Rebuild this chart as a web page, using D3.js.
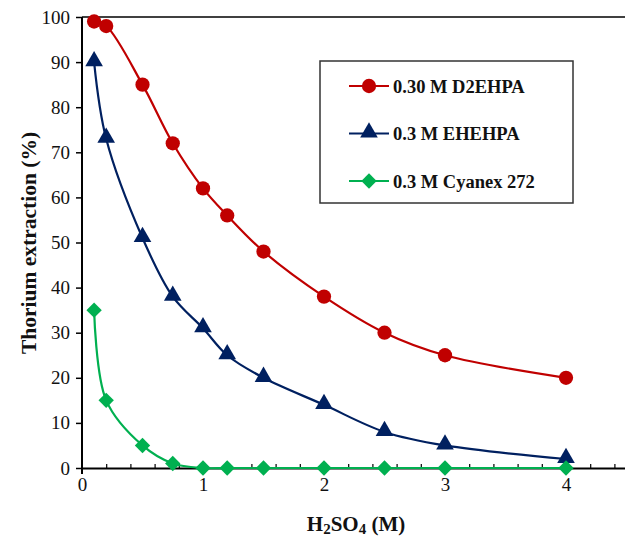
<!DOCTYPE html>
<html><head><meta charset="utf-8">
<script src="https://cdn.jsdelivr.net/npm/d3@7"></script>
<style>body{margin:0;background:#fff}svg{display:block}text{font-family:"Liberation Serif","Times New Roman",serif}</style>
</head><body>
<script>
const xValues = [0.1, 0.2, 0.5, 0.75, 1, 1.2, 1.5, 2, 2.5, 3, 4];
const d2ehpa = [99, 98, 85, 72, 62, 56, 48, 38, 30, 25, 20];
const ehehpa = [90, 73, 51, 38, 31, 25, 20, 14, 8, 5, 2];
const cyanex = [35, 15, 5, 1, 0, 0, 0, 0, 0, 0, 0];
const seriesNames = ["0.30 M D2EHPA", "0.3 M EHEHPA", "0.3 M Cyanex 272"];
const xTicks = [0, 1, 2, 3, 4];
const yTicks = [0, 10, 20, 30, 40, 50, 60, 70, 80, 90, 100];

const W = 625, H = 539;
const svg = d3.select("body").append("svg").attr("width", W).attr("height", H);
const x = d3.scaleLinear().domain([0, 4.5]).range([82, 626.5]);
const y = d3.scaleLinear().domain([0, 100]).range([468, 17]);

const series = [
  {name: seriesNames[0], vals: d2ehpa, color: "#C00000", marker: "circle"},
  {name: seriesNames[1], vals: ehehpa, color: "#002060", marker: "triangle"},
  {name: seriesNames[2], vals: cyanex, color: "#00B050", marker: "diamond"}
];
const sym = {circle: d3.symbol().type(d3.symbolCircle).size(160),
             triangle: d3.symbol().type(d3.symbolTriangle).size(135),
             diamond: d3.symbol().type(d3.symbolSquare).size(118)};

// top border
svg.append("line").attr("x1", 82).attr("x2", W).attr("y1", 17).attr("y2", 17)
  .attr("stroke", "#404040").attr("stroke-width", 2);

// x axis
const minor = d3.range(0, 4.51, 0.2).filter(v => Math.abs(v - Math.round(v)) > 1e-6);
svg.append("g").attr("transform", "translate(0,468)")
  .call(d3.axisBottom(x).tickValues(minor).tickSize(-4).tickFormat(""))
  .call(g => g.select(".domain").remove())
  .call(g => g.selectAll("line").attr("stroke", "#000").attr("stroke-width", 1.2));
const xg = svg.append("g").attr("transform", "translate(0,468)")
  .call(d3.axisBottom(x).tickValues(xTicks).tickSize(0).tickPadding(10).tickFormat(d3.format("d")));
xg.select(".domain").attr("stroke", "#000").attr("stroke-width", 2);
xg.selectAll("text").attr("font-size", 19).attr("fill", "#111");

// y axis
const yg = svg.append("g").attr("transform", "translate(82,0)")
  .call(d3.axisLeft(y).tickValues(yTicks).tickSize(6).tickPadding(6));
yg.select(".domain").attr("stroke", "#000").attr("stroke-width", 2).attr("d", "M0,17V474");
yg.selectAll("line").attr("stroke", "#000").attr("stroke-width", 1.5);
yg.selectAll("text").attr("font-size", 19).attr("fill", "#111");

// lines & markers
const line = d3.line().x(d => x(d[0])).y(d => y(d[1])).curve(d3.curveCatmullRom.alpha(0.5));
series.forEach(s => {
  const pts = xValues.map((v, i) => [v, s.vals[i]]);
  svg.append("path").attr("d", line(pts)).attr("fill", "none")
    .attr("stroke", s.color).attr("stroke-width", 2.2);
  svg.append("g").selectAll("path").data(pts).join("path")
    .attr("d", sym[s.marker])
    .attr("transform", d => `translate(${x(d[0])},${y(d[1]) + (s.marker === "triangle" ? -1 : 0)})` + (s.marker === "diamond" ? " rotate(45)" : ""))
    .attr("fill", s.color);
});

// legend
svg.append("rect").attr("x", 320).attr("y", 61).attr("width", 253).attr("height", 142)
  .attr("fill", "#fff").attr("stroke", "#333").attr("stroke-width", 1.5);
series.forEach((s, i) => {
  const yy = 86 + i * 47.5;
  svg.append("line").attr("x1", 349).attr("x2", 389).attr("y1", yy).attr("y2", yy)
    .attr("stroke", s.color).attr("stroke-width", 2.2);
  svg.append("path").attr("d", sym[s.marker])
    .attr("transform", `translate(369,${yy + (s.marker === "triangle" ? -1 : 0)})` + (s.marker === "diamond" ? " rotate(45)" : ""))
    .attr("fill", s.color);
  svg.append("text").attr("x", 393).attr("y", yy + 6.5).attr("font-size", 18.5)
    .attr("font-weight", "bold").attr("fill", "#111").text(s.name);
});

// axis titles
svg.append("text").attr("transform", "translate(36,243) rotate(-90)")
  .attr("text-anchor", "middle").attr("font-size", 21.5).attr("font-weight", "bold")
  .attr("fill", "#111").text("Thorium extraction (%)");
const xt = svg.append("text").attr("x", 356).attr("y", 531).attr("text-anchor", "middle")
  .attr("font-size", 21).attr("font-weight", "bold").attr("fill", "#111");
xt.append("tspan").text("H");
xt.append("tspan").text("2").attr("font-size", 15).attr("dy", 3);
xt.append("tspan").text("SO").attr("dy", -3);
xt.append("tspan").text("4").attr("font-size", 15).attr("dy", 3);
xt.append("tspan").text(" (M)").attr("dy", -3);
</script>
</body></html>
